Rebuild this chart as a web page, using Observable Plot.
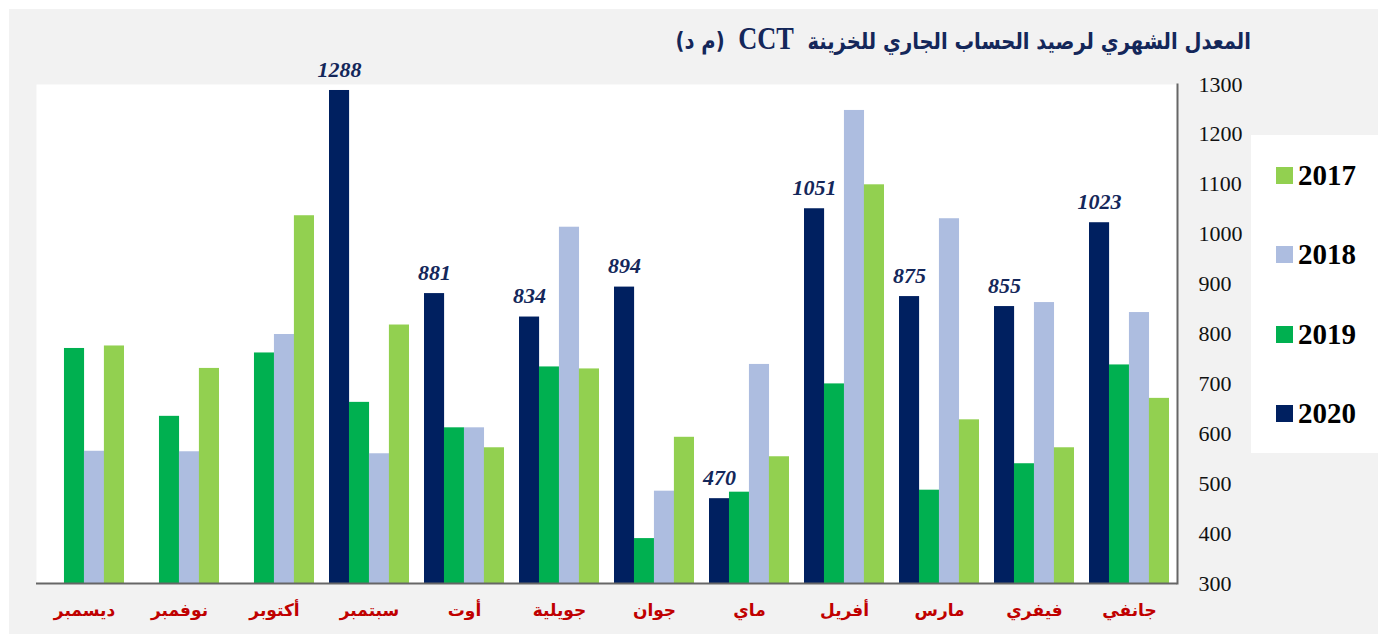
<!DOCTYPE html>
<html>
<head>
<meta charset="utf-8">
<script src="https://cdn.jsdelivr.net/npm/d3@7"></script>
<script src="https://cdn.jsdelivr.net/npm/@observablehq/plot@0.6"></script>
<style>
  html, body { margin: 0; padding: 0; background: #ffffff; }
  #page { position: relative; width: 1378px; height: 634px; overflow: hidden; }
  #panel { position: absolute; left: 9px; top: 9px; right: 0; bottom: 0; background: #f2f2f2; }
  #title { position: absolute; right: 127px; top: 23px; direction: rtl; white-space: nowrap;
           font-family: "DejaVu Sans", "Liberation Serif", sans-serif; font-weight: bold; font-size: 23px;
           color: #14275a; line-height: 32px; transform: scaleX(0.85); transform-origin: right center; }
  #title .lat { font-family: "Liberation Serif", serif; font-size: 31px; }
  #chart { position: absolute; left: 0; top: 0; }
  #chart svg g[aria-label="y-axis tick label"] text { font-family: "Liberation Serif", serif !important; }
  #legend { position: absolute; left: 1251px; top: 135px; width: 127px; height: 318px; background: #ffffff; }
  .item { position: absolute; left: 25px; height: 30px; display: flex; align-items: center;
          font-family: "Liberation Serif", serif; font-weight: bold; font-size: 29px; color: #000; }
  .sw { width: 17px; height: 17px; margin-right: 5px; }
</style>
</head>
<body>
<div id="page">
  <div id="panel"></div>
  <div id="title">المعدل الشهري لرصيد الحساب الجاري للخزينة &nbsp;<span class="lat">CCT</span>&nbsp; (م د)</div>
  <div id="chart"></div>
  <div id="legend"></div>
</div>
<script>
// ---- data ----
const months = ["جانفي","فيفري","مارس","أفريل","ماي","جوان","جويلية","أوت","سبتمبر","أكتوبر","نوفمبر","ديسمبر"];
const years = ["2017","2018","2019","2020"];
const v2017 = [671, 572, 628, 1099, 554, 593, 730, 572, 818, 1037, 731, 776];
const v2018 = [843, 863, 1031, 1248, 739, 485, 1014, 612, 560, 799, 564, 565];
const v2019 = [738, 540, 487, 700, 483, 390, 734, 612, 663, 762, 635, 771];
const v2020 = [1023, 855, 875, 1051, 470, 894, 834, 881, 1288, null, null, null];
const yTicks = [300, 400, 500, 600, 700, 800, 900, 1000, 1100, 1200, 1300];
const colors = {"2017": "#92d050", "2018": "#adbde0", "2019": "#00b050", "2020": "#002060"};

const series = {"2017": v2017, "2018": v2018, "2019": v2019, "2020": v2020};
const rows = years.flatMap(y => months.map((m, i) => ({month: m, year: y, v: series[y][i]}))).filter(d => d.v != null);

// ---- layout ----
const W = 1378, H = 634, mL = 36, mR = 201, mT = 84, mB = 51;
const padIn = 0.16, padOut = 0.08;
const step = (W - mL - mR) / (months.length - padIn + 2 * padOut);
const bw = step * (1 - padIn);
const order = ["2020", "2019", "2018", "2017"]; // left to right within a group
const barW = bw / order.length;
const yMin = d3.min(yTicks);

const barMarks = order.map((yr, i) =>
  Plot.barY(rows.filter(d => d.year === yr), {
    x: "month", y1: () => yMin, y2: "v", fill: colors[yr],
    insetLeft: i * barW, insetRight: (order.length - 1 - i) * barW
  })
);

const chart = Plot.plot({
  width: W, height: H,
  marginLeft: mL, marginRight: mR, marginTop: mT, marginBottom: mB,
  style: {background: "none", overflow: "visible", fontFamily: "'Liberation Serif', 'DejaVu Sans', serif"},
  x: {domain: months.slice().reverse(), paddingInner: padIn, paddingOuter: padOut},
  y: {domain: [d3.min(yTicks), d3.max(yTicks)]},
  marks: [
    Plot.frame({fill: "#ffffff", stroke: null}),
    ...barMarks,
    Plot.text(rows.filter(d => d.year === "2020"), {
      x: "month", y: "v", text: d => String(d.v), dx: -1.5 * barW, dy: -21,
      fontFamily: "Liberation Serif", fontWeight: "bold", fontStyle: "italic", fontSize: 22, fill: "#14275a"
    }),
    Plot.ruleY([yMin], {stroke: "#666666", strokeWidth: 2}),
    Plot.frame({anchor: "right", stroke: "#666666", strokeWidth: 2}),
    Plot.axisY(yTicks, {anchor: "right", tickSize: 0, tickPadding: 21, label: null, tickFormat: d3.format("d"),
      fontFamily: "Liberation Serif", fontSize: 22, fill: "#111"}),
    Plot.axisX({anchor: "bottom", tickSize: 0, tickPadding: 20, label: null,
      fontFamily: "DejaVu Sans", fontWeight: "bold", fontSize: 17, fill: "#c00000"})
  ]
});
document.getElementById("chart").appendChild(chart);

// ---- legend ----
const legend = document.getElementById("legend");
const legendTops = [25, 104, 184, 263];
years.forEach((y, i) => {
  const it = document.createElement("div");
  it.className = "item";
  it.style.top = legendTops[i] + "px";
  const sw = document.createElement("span");
  sw.className = "sw"; sw.style.background = colors[y];
  const t = document.createElement("span");
  t.textContent = y;
  it.appendChild(sw); it.appendChild(t);
  legend.appendChild(it);
});
</script>
</body>
</html>
